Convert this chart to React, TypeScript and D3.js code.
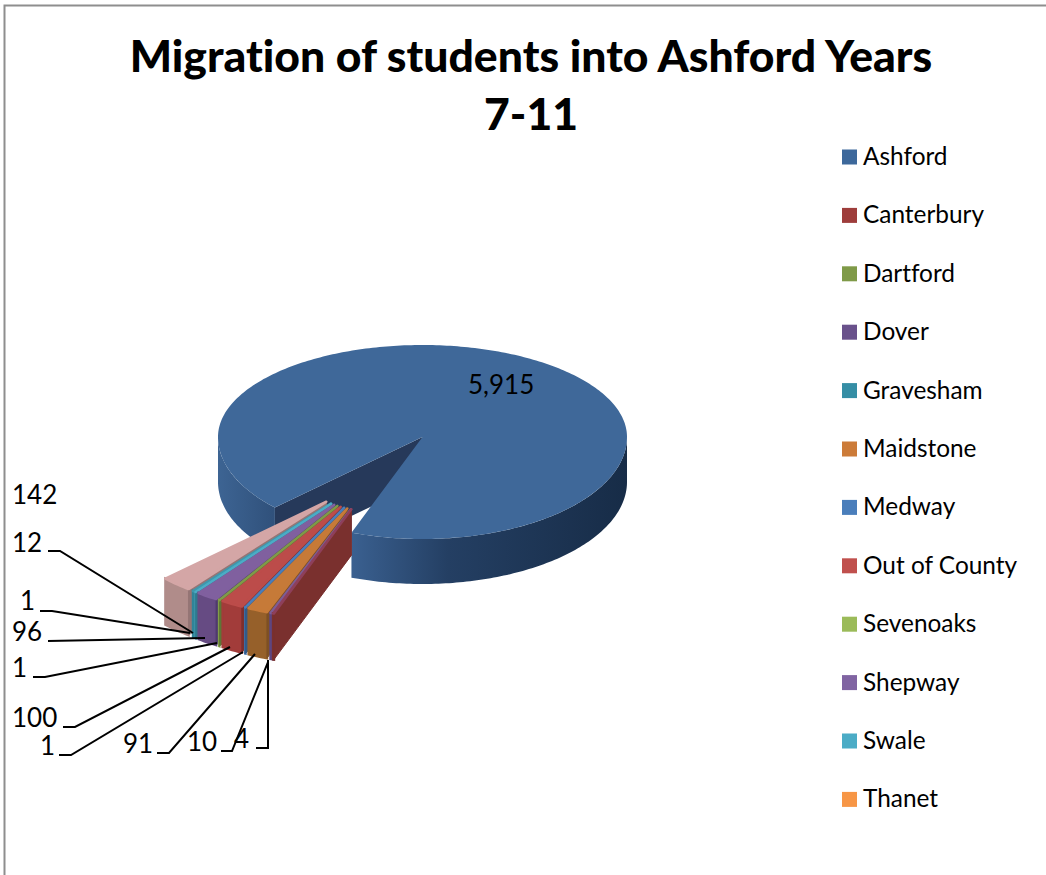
import React from "react";
import * as d3 from "d3";

// ---- data ----
const legendNames = ["Ashford","Canterbury","Dartford","Dover","Gravesham","Maidstone","Medway","Out of County","Sevenoaks","Shepway","Swale","Thanet"];
const legendColors = ["#3D689B","#9E3D3B","#7F9A48","#69518B","#358EA5","#CC7B38","#4A7EBB","#C0504D","#9BBB59","#8064A2","#4BACC6","#F79646"];

const sliceNames = ["Ashford","Canterbury","Dover","Maidstone","Medway","Out of County","Sevenoaks","Shepway","Swale","Thanet","Other"];
const sliceValues = [5915,4,10,91,1,100,1,96,1,12,142];
const sliceTop = ["#3F6899","#8E3F5A","#7C5C96","#C67A38","#4A7EBB","#BC4C4A","#7F9A48","#80609F","#4BACC6","#3F97AC","#D4A6A6"];
const sliceFront = ["#2C4A72","#7A302E","#5E4580","#96602A","#3F6DA5","#A23C3A","#8CA64E","#664B83","#3F97AC","#2F8499","#B08C8A"];
const sliceWall = ["#26395A","#7A302E","#503A6E","#7E5024","#335A88","#7E2F2E","#5E7636","#503A6E","#2F7A8E","#2A7488","#957575"];

const dataLabels = ["142","12","1","96","1","100","1","91","10","4"];
const labelX = [12,12,20,12,12,12,40,123,187,234];
const labelY = [504,552,610,641,677,727,755,753,751,748];
const leaderPoints: number[][][] = [
  [],
  [[48,551],[60,551],[193,633]],
  [[40,611],[52,611],[190,633]],
  [[48,641],[205,638]],
  [[33,677],[45,677],[217,643]],
  [[63,727],[75,727],[230,647]],
  [[59,755],[71,755],[243,652]],
  [[157,753],[169,753],[255,654]],
  [[221,751],[232,751],[268,662]],
  [[256,748],[268,748],[268,660]],
];

// ---- layout ----
const W = 1046, H = 875;
const cx = 422.5, cy = 437, rx = 204.5, ryBack = 92, ryFront = 102, depth = 45;
const deg = Math.PI / 180;
const startAngle = 226.2 * deg;
const explode = 0.38, shiftX = -44, shiftY = 36, fanScale = 1.09, fanDepth = 46;
const legendX = 842, legendY0 = 157, legendStep = 58.4, swatch = 15;
const font = "Lato, Carlito, Calibri, sans-serif";
const textStyle: React.CSSProperties = { fontVariantLigatures: "none" };

const ox = (t: number) => rx * Math.sin(t);
const oy = (t: number) => { const c = Math.cos(t); return -c * (c > 0 ? ryBack : ryFront); };
const line = d3.line<number[]>().x(d => d[0]).y(d => d[1]);
const closed = (p: number[][]) => line(p) + "Z";
const arcAngles = (a: number, b: number) => {
  const n = Math.max(2, Math.ceil(Math.abs(b - a) / (1 * deg)));
  return d3.range(n + 1).map(i => a + (b - a) * i / n);
};

const arcs = d3.pie<number>().sort(null).startAngle(startAngle).endAngle(startAngle + 2 * Math.PI)(sliceValues);

const rimAsh = (t: number, dz = 0) => [cx + ox(t), cy + oy(t) + dz];

export default function App() {
  const a = arcs[0];
  const topAngles = arcAngles(a.startAngle, a.endAngle);
  const ashTop = closed([[cx, cy], ...topAngles.map(t => rimAsh(t))]);
  const wall = (t0: number, t1: number) => {
    const ang = arcAngles(t0, t1);
    return closed([...ang.map(t => rimAsh(t)), ...ang.slice().reverse().map(t => rimAsh(t, depth))]);
  };
  const leftWall = wall(a.startAngle, 270 * deg);
  const rightWall = wall(90 * deg + 2 * Math.PI, a.endAngle);
  const cutWall = closed([[cx, cy], rimAsh(a.startAngle), rimAsh(a.startAngle, depth), [cx, cy + depth]]);

  const fan = arcs.slice(1).map((d, i) => {
    const mid = (d.startAngle + d.endAngle) / 2;
    const ax = cx + shiftX + explode * ox(mid);
    const ay = cy + shiftY + explode * oy(mid);
    const pt = (t: number, dz = 0) => [ax + fanScale * ox(t), ay + fanScale * oy(t) + dz];
    const ang = arcAngles(d.startAngle, d.endAngle);
    return {
      i: i + 1,
      top: closed([[ax, ay], ...ang.map(t => pt(t))]),
      front: closed([...ang.map(t => pt(t)), ...ang.slice().reverse().map(t => pt(t, fanDepth))]),
      cut: closed([[ax, ay], pt(d.startAngle), pt(d.startAngle, fanDepth), [ax, ay + fanDepth]]),
    };
  }).reverse();

  return (
    <svg width={W} height={H} viewBox={`0 0 ${W} ${H}`} style={{ position: "absolute", left: 0, top: 0, display: "block", background: "#fff" }}>
      <defs>
        <linearGradient id="wl" gradientUnits="userSpaceOnUse" x1={218} x2={300} y1={0} y2={0}>
          <stop offset="0" stopColor="#3D6493" /><stop offset="1" stopColor="#2A4870" />
        </linearGradient>
        <linearGradient id="wr" gradientUnits="userSpaceOnUse" x1={352} x2={627} y1={0} y2={0}>
          <stop offset="0" stopColor="#3A6090" /><stop offset="0.35" stopColor="#243F63" /><stop offset="1" stopColor="#172C47" />
        </linearGradient>
      </defs>
      <path d="M4.5 875V5.5H1046" fill="none" stroke="#8E8E8E" strokeWidth={2} />

      <text x={531} y={72} textAnchor="middle" fontFamily={font} fontWeight={900} fontSize={44.5} style={textStyle} fill="#000">Migration of students into Ashford Years</text>
      <text x={531} y={130} textAnchor="middle" fontFamily={font} fontWeight={900} fontSize={44.5} style={textStyle} fill="#000">7-11</text>

      <path d={cutWall} fill={sliceWall[0]} />
      <path d={leftWall} fill="url(#wl)" />
      <path d={rightWall} fill="url(#wr)" />
      <path d={ashTop} fill={sliceTop[0]} />

      {fan.map(s => (
        <g key={s.i}>
          <path d={s.front} fill={sliceFront[s.i]} stroke={sliceFront[s.i]} strokeWidth={2.5} />
          <path d={s.cut} fill={sliceWall[s.i]} stroke={sliceWall[s.i]} strokeWidth={1} />
          <path d={s.top} fill={sliceTop[s.i]} stroke={sliceTop[s.i]} strokeWidth={2.5} strokeLinejoin="round" />
        </g>
      ))}

      {leaderPoints.map((p, i) => p.length ? <path key={i} d={line(p)!} fill="none" stroke="#000" strokeWidth={2} /> : null)}
      {dataLabels.map((t, i) => (
        <text key={i} x={labelX[i]} y={labelY[i]} fontFamily={font} fontSize={26} fill="#000">{t}</text>
      ))}
      <text x={468} y={394} fontFamily={font} fontSize={26} fill="#000">{d3.format(",")(sliceValues[0])}</text>

      {legendNames.map((n, i) => {
        const y = legendY0 + i * legendStep;
        return (
          <g key={n}>
            <rect x={legendX} y={y - swatch / 2} width={swatch} height={swatch} fill={legendColors[i]} />
            <text x={863} y={y + 8} fontFamily={font} fontSize={24.4} style={textStyle} fill="#000">{n}</text>
          </g>
        );
      })}
    </svg>
  );
}
